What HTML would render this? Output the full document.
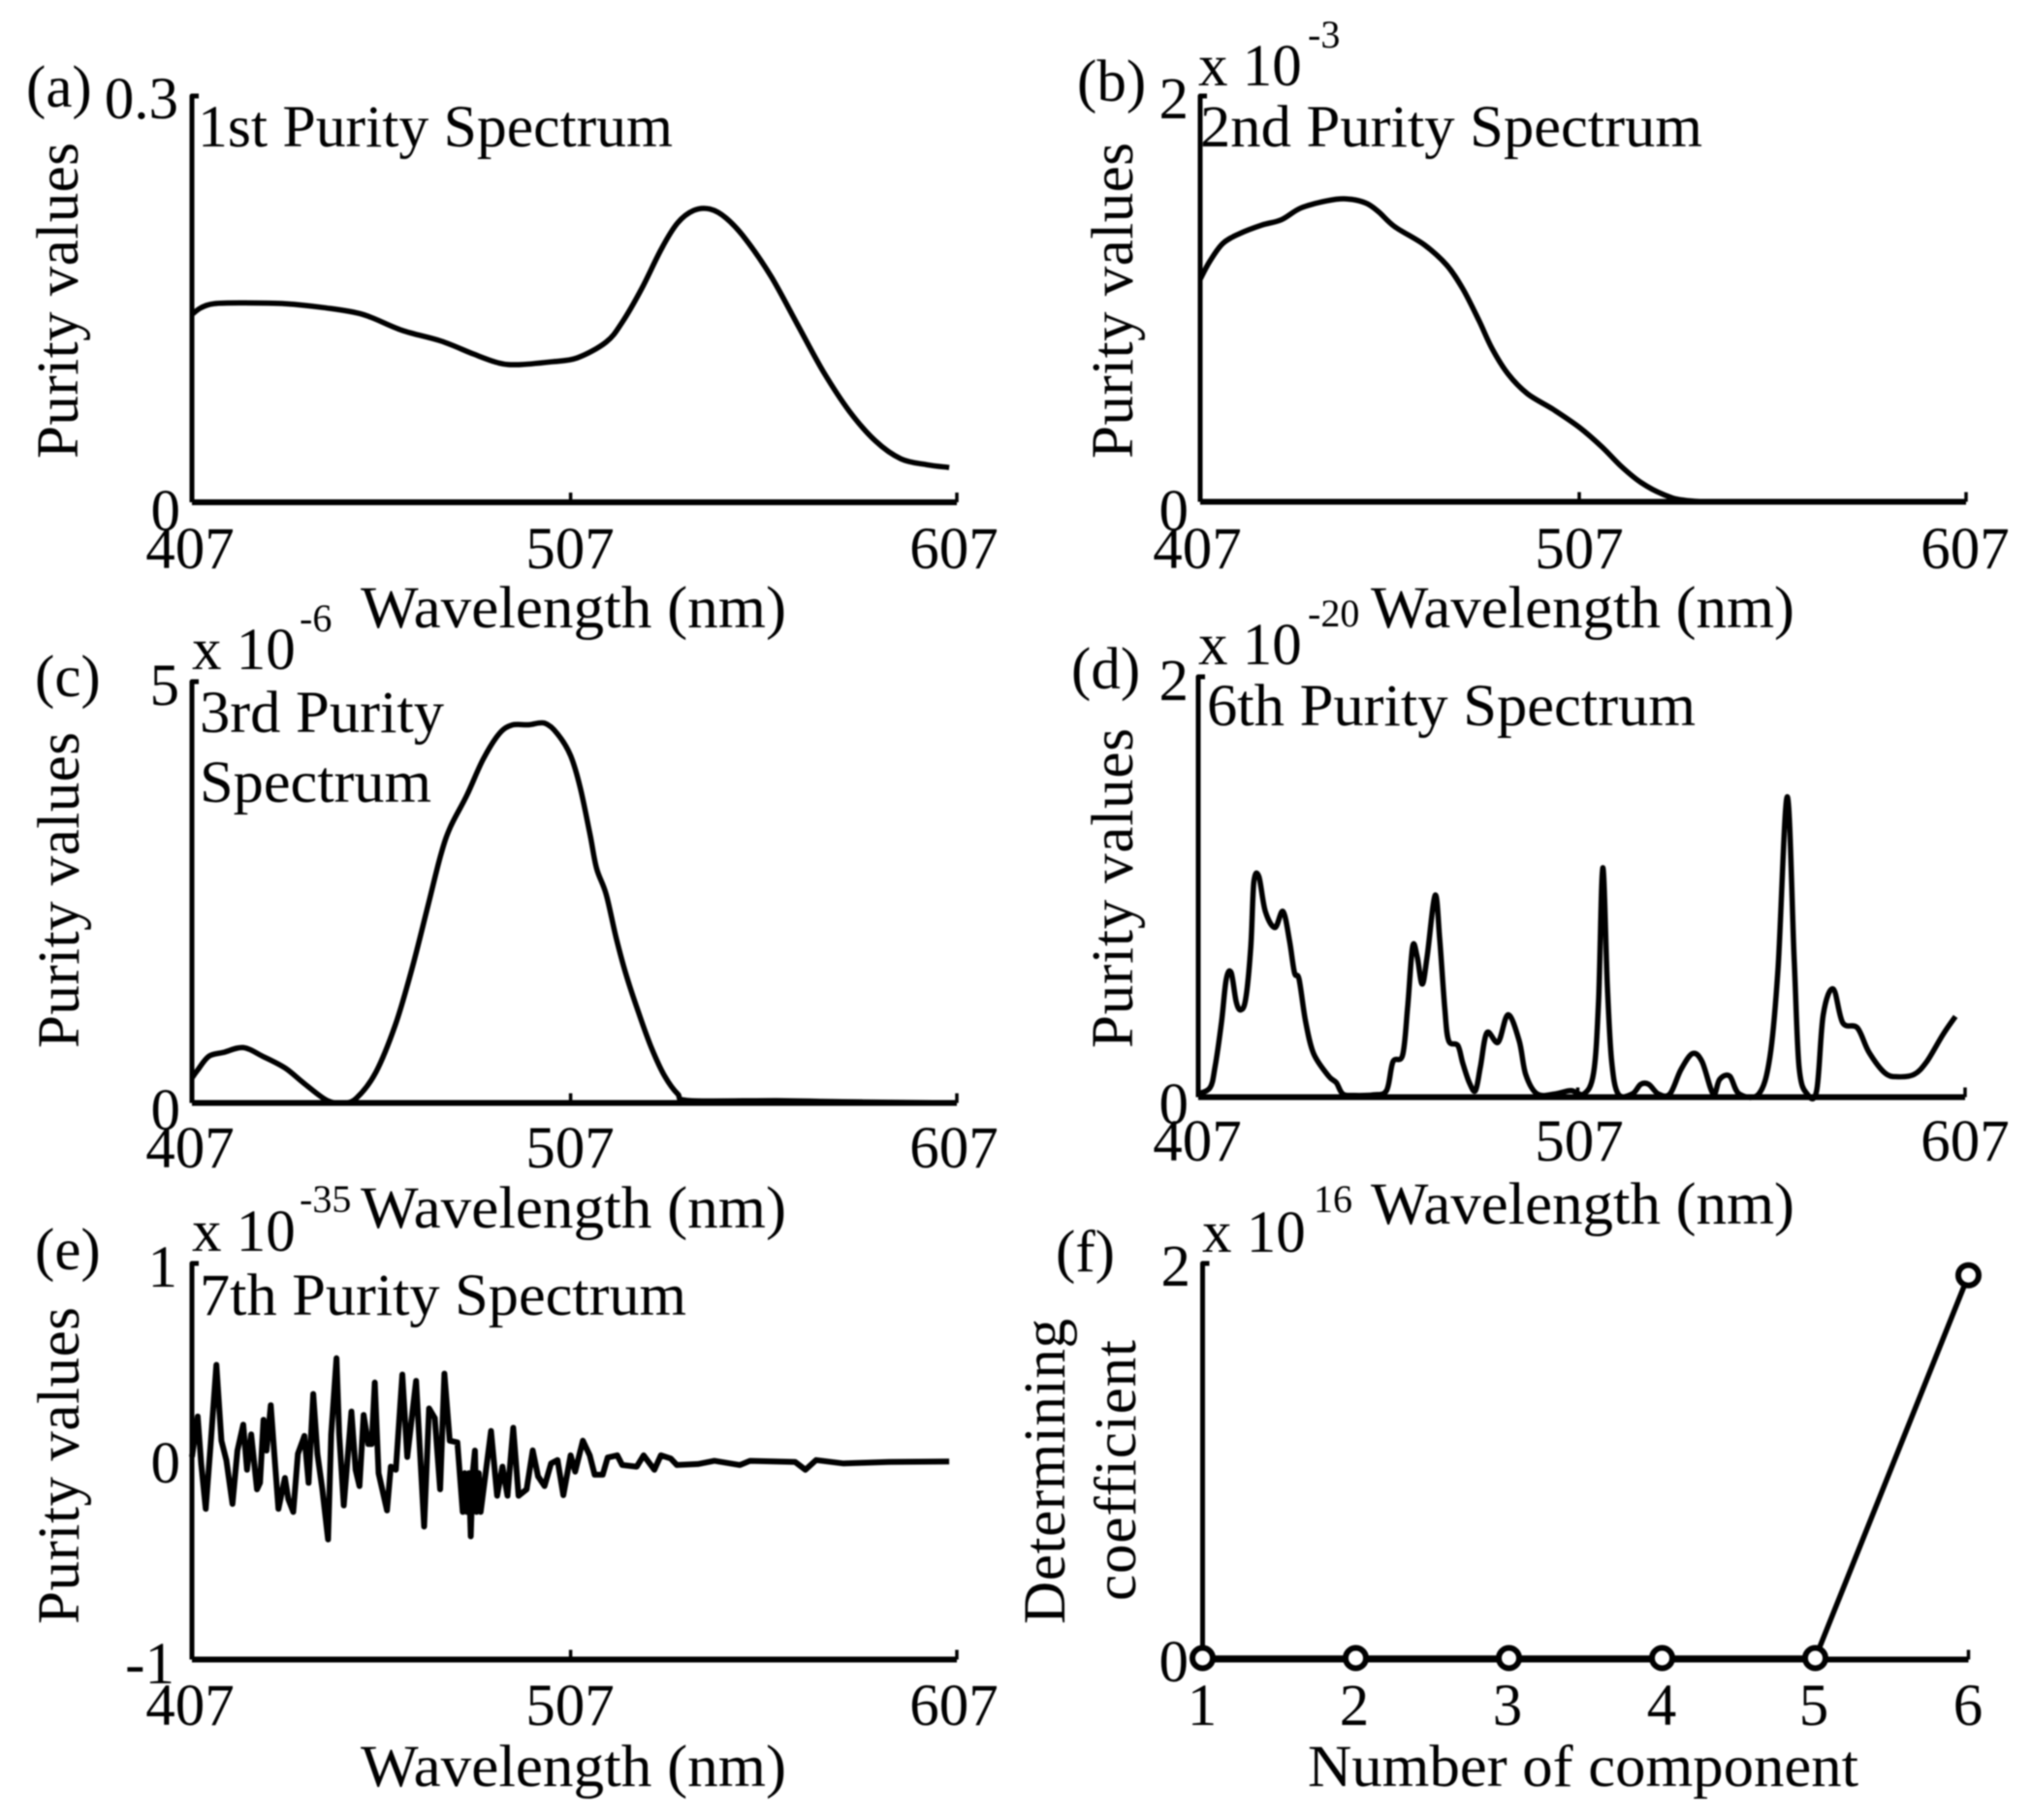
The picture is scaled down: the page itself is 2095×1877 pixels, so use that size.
<!DOCTYPE html>
<html lang="en">
<head>
<meta charset="utf-8">
<title>Purity spectra</title>
<style>
html,body{margin:0;padding:0;background:#fff;width:2095px;height:1877px;overflow:hidden}
svg{display:block;filter:blur(0.9px)}
text{font-family:"Liberation Serif",serif;font-size:61px;fill:#000}
.sup{font-size:40px}
</style>
</head>
<body>
<svg id="figure" xmlns="http://www.w3.org/2000/svg" width="2095" height="1877" viewBox="0 0 2095 1877">
<rect width="2095" height="1877" fill="#fff"/>

<g id="panel-a">
<text x="27" y="110">(a)</text>
<text x="184" y="122" text-anchor="end">0.3</text>
<text x="186" y="547" text-anchor="end">0</text>
<text x="204" y="151" textLength="490" lengthAdjust="spacingAndGlyphs">1st Purity Spectrum</text>
<text transform="translate(80,473) rotate(-90)" textLength="326">Purity values</text>
<text x="196" y="586" text-anchor="middle">407</text>
<text x="588" y="586" text-anchor="middle">507</text>
<text x="984" y="586" text-anchor="middle">607</text>
<text x="372" y="647" textLength="439" lengthAdjust="spacingAndGlyphs">Wavelength (nm)</text>
</g>

<g id="panel-b">
<text x="1111" y="104">(b)</text>
<text x="1226" y="122" text-anchor="end">2</text>
<text x="1226" y="547" text-anchor="end">0</text>
<text x="1236" y="88">x 10</text>
<text x="1349" y="49" class="sup">-3</text>
<text x="1238" y="151" textLength="518" lengthAdjust="spacingAndGlyphs">2nd Purity Spectrum</text>
<text transform="translate(1168,473) rotate(-90)" textLength="326">Purity values</text>
<text x="1235" y="586" text-anchor="middle">407</text>
<text x="1629" y="586" text-anchor="middle">507</text>
<text x="2027" y="586" text-anchor="middle">607</text>
<text x="1414" y="647" textLength="437" lengthAdjust="spacingAndGlyphs">Wavelength (nm)</text>
</g>

<g id="panel-c">
<text x="36" y="718">(c)</text>
<text x="185" y="727" text-anchor="end">5</text>
<text x="186" y="1165" text-anchor="end">0</text>
<text x="198" y="690">x 10</text>
<text x="309" y="651" class="sup">-6</text>
<text x="206" y="755" textLength="252" lengthAdjust="spacingAndGlyphs">3rd Purity</text>
<text x="206" y="827" textLength="239" lengthAdjust="spacingAndGlyphs">Spectrum</text>
<text transform="translate(81,1081) rotate(-90)" textLength="326">Purity values</text>
<text x="196" y="1204" text-anchor="middle">407</text>
<text x="588" y="1204" text-anchor="middle">507</text>
<text x="984" y="1204" text-anchor="middle">607</text>
<text x="372" y="1266" textLength="439" lengthAdjust="spacingAndGlyphs">Wavelength (nm)</text>
</g>

<g id="panel-d">
<text x="1105" y="710">(d)</text>
<text x="1226" y="722" text-anchor="end">2</text>
<text x="1226" y="1159" text-anchor="end">0</text>
<text x="1236" y="685">x 10</text>
<text x="1349" y="646" class="sup">-20</text>
<text x="1245" y="748" textLength="504" lengthAdjust="spacingAndGlyphs">6th Purity Spectrum</text>
<text transform="translate(1168,1081) rotate(-90)" textLength="330">Purity values</text>
<text x="1235" y="1197" text-anchor="middle">407</text>
<text x="1629" y="1197" text-anchor="middle">507</text>
<text x="2027" y="1197" text-anchor="middle">607</text>
<text x="1414" y="1262" textLength="437" lengthAdjust="spacingAndGlyphs">Wavelength (nm)</text>
</g>

<g id="panel-e">
<text x="36" y="1309">(e)</text>
<text x="183" y="1327" text-anchor="end">1</text>
<text x="186" y="1529" text-anchor="end">0</text>
<text x="180" y="1736" text-anchor="end">-1</text>
<text x="198" y="1290">x 10</text>
<text x="309" y="1250" class="sup">-35</text>
<text x="206" y="1356" textLength="502" lengthAdjust="spacingAndGlyphs">7th Purity Spectrum</text>
<text transform="translate(81,1675) rotate(-90)" textLength="327">Purity values</text>
<text x="196" y="1779" text-anchor="middle">407</text>
<text x="588" y="1779" text-anchor="middle">507</text>
<text x="984" y="1779" text-anchor="middle">607</text>
<text x="372" y="1842" textLength="439" lengthAdjust="spacingAndGlyphs">Wavelength (nm)</text>
</g>

<g id="panel-f">
<text x="1089" y="1311">(f)</text>
<text x="1228" y="1326" text-anchor="end">2</text>
<text x="1226" y="1734" text-anchor="end">0</text>
<text x="1240" y="1291">x 10</text>
<text x="1355" y="1250" class="sup">16</text>
<text transform="translate(1098,1675) rotate(-90)" textLength="315">Determining</text>
<text transform="translate(1171,1651) rotate(-90)" textLength="269">coefficient</text>
<text x="1240" y="1779" text-anchor="middle">1</text>
<text x="1397" y="1779" text-anchor="middle">2</text>
<text x="1555" y="1779" text-anchor="middle">3</text>
<text x="1714" y="1779" text-anchor="middle">4</text>
<text x="1871" y="1779" text-anchor="middle">5</text>
<text x="2030" y="1779" text-anchor="middle">6</text>
<text x="1349" y="1842" textLength="568" lengthAdjust="spacingAndGlyphs">Number of component</text>
</g>
</svg>

<script>
const wavelengthTicks = [407, 506, 607];

const wavelengthA = [407,409.4,412.8,419.5,431.4,441.6,451.7,461.9,472.1,480.6,487.3,492.4,500.9,507.7,515.3,519.5,524.6,529.7,534,538.2,542.4,546.7,551.8,558.5,565.3,572.1,578.9,585.7,592.4,599.2,605];
const purityA = [.1387,.1437,.1466,.1472,.1466,.1437,.1387,.127,.1191,.1095,.1028,.1016,.1037,.1066,.1183,.1329,.1577,.1869,.2063,.2155,.2165,.2098,.1942,.1664,.1314,.0964,.0672,.0453,.0321,.0277,.0257];

const wavelengthB = [407,409.5,412.9,417.2,423.1,428.2,433.3,440,445.1,450.2,453.6,457.8,465.5,471.4,475.6,479.8,483.2,487.4,492.5,499.3,506.1,512,517.1,522.2,528.1,534,548,607];
const purityB = [1.097,1.185,1.273,1.321,1.364,1.39,1.448,1.483,1.493,1.473,1.429,1.356,1.267,1.166,1.049,.893,.756,.63,.532,.454,.366,.269,.172,.094,.035,.006,0,0];

const wavelengthC = [407,408.5,411.4,415.3,420.4,425.5,431.4,436.5,442.4,446.7,450.1,455.1,460.2,464.5,468.7,472.1,474.6,478.9,483.1,487.3,490.7,495,499.2,502.6,506,508.5,511.1,512.8,515.3,517.9,520.4,523.8,527.2,530.6,534,537.3,560.2,577.2,607];
const purityC = [.296,.39,.554,.601,.657,.554,.413,.225,.028,0,.061,.366,.93,1.587,2.338,2.949,3.277,3.653,4.075,4.38,4.484,4.488,4.507,4.38,4.122,3.747,3.183,2.784,2.479,1.963,1.54,1.07,.648,.319,.108,.028,.028,.014,0];

const wavelengthD = [407,410.1,411.4,413.1,414.3,415.6,416.9,418.1,419.4,420.7,421.5,422.8,424.5,427,429.1,430.8,432.1,433.3,435,437.1,441,443,444.7,447.7,452.7,456.1,457.8,460.3,461.6,462.9,464.1,465.4,466.7,468.8,470,471.3,472.3,474.7,476,477.7,479.3,480.6,482.3,485.2,487.8,490.7,492.4,495.4,500,504.2,507.6,510.1,511.4,512.5,513.7,514.8,516.5,520.2,522.4,524.5,527,530,532.9,535.9,538.4,541.3,543,545.6,548.1,553.2,556.1,558.2,560.6,562.4,563.7,565.8,568.3,570,572.6,575.1,578.9,581.9,586.1,589.4,593.7,597,601.3,604.5];
const purityD = [.015,.046,.146,.361,.561,.592,.453,.415,.469,.715,1.022,1.05,.884,.807,.884,.745,.592,.561,.361,.207,.1,.069,.015,.008,.011,.031,.169,.2,.423,.715,.669,.538,.669,.961,.745,.423,.269,.246,.161,.069,.031,.146,.307,.261,.392,.269,.108,.015,.015,.031,.015,.115,.453,1.091,.53,.177,.015,.015,.061,.061,.015,.015,.131,.207,.169,.015,.085,.1,.015,.015,.192,.607,1.429,.669,.146,.015,.031,.392,.515,.354,.33,.215,.115,.097,.108,.169,.3,.384];

const wavelengthE = [407,408.5,409.4,410.6,411.9,413.4,414.7,416,417.6,418.9,420.4,421.4,422.5,424,424.8,425.7,426.5,427.6,428.6,429.6,431.3,432.2,433.5,434.7,436.4,437.5,438.7,439.8,441.1,442.6,443.4,444.8,445.5,446.7,448.7,449.8,450.8,451.9,453.1,454,454.8,455.8,458,459,460.3,462,463.3,465.6,467.7,469,470.5,471.9,473,474.4,476.4,477.8,478.3,478.9,479.4,479.9,480.4,481,481.4,482,482.5,485.2,486.8,488.2,489.5,491,492.4,494.5,496.1,497.5,499.2,500.9,502.6,504.1,506,507.2,509.2,511,512.3,514.4,515.7,518.2,519.5,523.3,525.1,527.9,529.6,532.2,533.8,539.3,543.6,550.3,552.9,564.7,567.4,570.2,577.4,589.2,605];
const purityE = [.023,.227,-.01,-.239,.088,.488,.105,.006,-.214,.055,.186,-.042,.137,-.141,-.108,.211,.055,.284,.023,-.239,-.083,-.19,-.255,.039,.129,-.108,.341,.039,-.141,-.394,.137,.521,.137,-.222,.252,-.042,-.124,.235,.088,.088,.399,-.059,-.247,-.026,-.042,.439,.023,.407,-.329,.268,.219,-.141,.444,.105,.096,-.255,-.059,-.255,-.059,-.378,-.059,.055,-.255,-.059,-.255,.154,-.173,-.026,-.173,.17,-.173,-.141,.056,-.075,-.124,-.01,.007,-.17,.031,-.051,.105,.031,-.067,-.067,.02,.031,-.018,-.026,.031,-.042,.031,.015,-.018,-.013,.003,-.018,.003,-.002,-.042,.007,-.01,-.002,0];

const componentNumbers = [1, 2, 3, 4, 5, 6];
const determiningCoefficients = [0, 0, 0, 0, 0, 1.94];

const SVG_NS = 'http://www.w3.org/2000/svg';

function makeScale(d0, d1, r0, r1) {
  return function (v) { return r0 + (v - d0) * (r1 - r0) / (d1 - d0); };
}

function makePath(parent, d, width) {
  const el = document.createElementNS(SVG_NS, 'path');
  el.setAttribute('d', d);
  el.setAttribute('fill', 'none');
  el.setAttribute('stroke', '#000');
  el.setAttribute('stroke-width', width);
  el.setAttribute('stroke-linejoin', 'round');
  el.setAttribute('stroke-linecap', 'butt');
  parent.appendChild(el);
  return el;
}

function straightPath(pts) {
  return pts.map(function (p, i) { return (i ? 'L' : 'M') + p[0].toFixed(1) + ' ' + p[1].toFixed(1); }).join('');
}

function smoothPath(pts) {
  let d = 'M' + pts[0][0].toFixed(1) + ' ' + pts[0][1].toFixed(1);
  for (let i = 0; i < pts.length - 1; i++) {
    const p0 = pts[Math.max(0, i - 1)], p1 = pts[i], p2 = pts[i + 1], p3 = pts[Math.min(pts.length - 1, i + 2)];
    const c1x = p1[0] + (p2[0] - p0[0]) / 6, c1y = p1[1] + (p2[1] - p0[1]) / 6;
    const c2x = p2[0] - (p3[0] - p1[0]) / 6, c2y = p2[1] - (p3[1] - p1[1]) / 6;
    d += 'C' + c1x.toFixed(1) + ' ' + c1y.toFixed(1) + ' ' + c2x.toFixed(1) + ' ' + c2y.toFixed(1) + ' ' + p2[0].toFixed(1) + ' ' + p2[1].toFixed(1);
  }
  return d;
}

function drawAxes(group, xScale, ticks, left, right, top, bottom, suffix) {
  const yAxis = makePath(group, 'M' + (left + 7) + ' ' + top + 'L' + left + ' ' + top + 'L' + left + ' ' + bottom, 5);
  
  
  const xAxis = makePath(group, 'M' + left + ' ' + bottom + 'L' + right + ' ' + bottom, 6);
  
  
  ticks.forEach(function (t) {
    const x = xScale(t);
    const tick = makePath(group, 'M' + x.toFixed(1) + ' ' + bottom + 'L' + x.toFixed(1) + ' ' + (bottom - 10), 3.5);
    
    
  });
}

function drawSpectrum(suffix, xs, ys, yMin, yMax, left, right, top, bottom, smooth, width) {
  const group = document.getElementById('panel-' + suffix);
  const xScale = makeScale(407, 607, left, right);
  const yScale = makeScale(yMin, yMax, bottom, top);
  drawAxes(group, xScale, wavelengthTicks, left, right, top, bottom, suffix);
  const pts = xs.map(function (x, i) { return [xScale(x), yScale(ys[i])]; });
  const line = makePath(group, smooth ? smoothPath(pts) : straightPath(pts), width);
  
  
}

drawSpectrum('a', wavelengthA, purityA, 0, 0.3, 198, 987, 99, 518, true, 5.5);
drawSpectrum('b', wavelengthB, purityB, 0, 2, 1238, 2028, 99, 517.5, true, 5.5);
drawSpectrum('c', wavelengthC, purityC, 0, 5, 198, 987, 703, 1137.5, true, 5.5);
drawSpectrum('d', wavelengthD, purityD, 0, 2, 1236, 2027, 698, 1131.5, true, 5.5);
drawSpectrum('e', wavelengthE, purityE, -1, 1, 198, 987, 1303, 1711.5, false, 6);

(function () {
  const group = document.getElementById('panel-f');
  const left = 1240.5, right = 2030.5, top = 1303, bottom = 1711.5;
  const xScale = makeScale(1, 6, left, right);
  const yScale = makeScale(0, 2, bottom - 1.5, top);
  drawAxes(group, xScale, [6], left, right, top, bottom, 'f');
  const pts = componentNumbers.map(function (c, i) { return [xScale(c), yScale(determiningCoefficients[i])]; });
  const line = makePath(group, straightPath(pts), 5.5);
  
  
  pts.forEach(function (p) {
    const dot = document.createElementNS(SVG_NS, 'circle');
    dot.setAttribute('cx', p[0].toFixed(1));
    dot.setAttribute('cy', p[1].toFixed(1));
    dot.setAttribute('r', '10.5');
    dot.setAttribute('fill', '#fff');
    dot.setAttribute('stroke', '#000');
    dot.setAttribute('stroke-width', '6');
    
    
    group.appendChild(dot);
  });
})();
</script>
</body>
</html>
